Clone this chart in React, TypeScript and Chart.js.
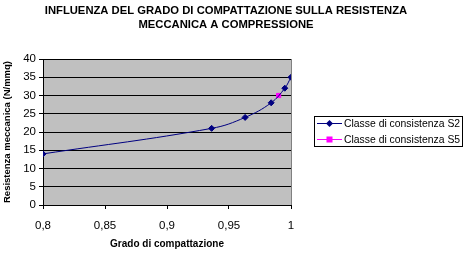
import React, { useEffect, useRef } from "react";
import { Chart, registerables } from "chart.js";

Chart.register(...registerables);

const titleLines = [
  "INFLUENZA DEL GRADO DI COMPATTAZIONE SULLA RESISTENZA",
  "MECCANICA A COMPRESSIONE",
];
const xAxisTitle = "Grado di compattazione";
const yAxisTitle = "Resistenza meccanica (N/mmq)";
const seriesNames = ["Classe di consistenza S2", "Classe di consistenza S5"];
const s2X = [0.8, 0.936, 0.963, 0.984, 0.995, 1.0];
const s2Y = [14, 21, 24, 28, 32, 35];
const s5X = [0.99];
const s5Y = [30];
const xTickLabels = ["0,8", "0,85", "0,9", "0,95", "1"];
const yTickLabels = ["0", "5", "10", "15", "20", "25", "30", "35", "40"];

const FONT = '"Liberation Sans", Arial, sans-serif';

export default function App() {
  const ref = useRef<HTMLCanvasElement>(null);

  useEffect(() => {
    document.body.style.margin = "0";
    const canvas = ref.current!;

    const bgPlugin = {
      id: "plotBg",
      beforeDraw(chart: any) {
        const { ctx, chartArea: a } = chart;
        ctx.save();
        ctx.fillStyle = "#C0C0C0";
        ctx.fillRect(a.left, a.top, a.right - a.left, a.bottom - a.top);
        ctx.strokeStyle = "#808080";
        ctx.lineWidth = 1;
        ctx.strokeRect(Math.round(a.left) + 0.5, Math.round(a.top) + 0.5, Math.round(a.right - a.left), Math.round(a.bottom - a.top));
        ctx.restore();
      },
    };

    const titlePlugin = {
      id: "customTitle",
      afterDraw(chart: any) {
        const ctx = chart.ctx;
        ctx.save();
        ctx.fillStyle = "#000";
        ctx.font = `bold 11.25px ${FONT}`;
        ctx.textAlign = "center";
        ctx.textBaseline = "alphabetic";
        ctx.fillText(titleLines[0], 226, 14);
        ctx.fillText(titleLines[1], 226, 28);
        ctx.restore();
      },
    };

    const legendPlugin = {
      id: "customLegend",
      afterDraw(chart: any) {
        const ctx = chart.ctx;
        const x0 = 314, y0 = 116, w = 148, h = 30;
        ctx.save();
        ctx.fillStyle = "#fff";
        ctx.fillRect(x0, y0, w, h);
        ctx.strokeStyle = "#000";
        ctx.lineWidth = 1;
        ctx.strokeRect(x0 + 0.5, y0 + 0.5, w, h);
        chart.data.datasets.forEach((ds: any, i: number) => {
          const cy = y0 + 7.5 + i * 16;
          ctx.strokeStyle = ds.borderColor;
          ctx.lineWidth = 1;
          ctx.beginPath();
          ctx.moveTo(x0 + 3, cy);
          ctx.lineTo(x0 + 28, cy);
          ctx.stroke();
          ctx.fillStyle = ds.pointBackgroundColor;
          const mx = x0 + 15.5;
          if (ds.pointStyle === "rect") {
            ctx.fillRect(mx - 3, cy - 3, 6, 6);
          } else {
            ctx.beginPath();
            ctx.moveTo(mx, cy - 3.5);
            ctx.lineTo(mx + 3.5, cy);
            ctx.lineTo(mx, cy + 3.5);
            ctx.lineTo(mx - 3.5, cy);
            ctx.closePath();
            ctx.fill();
          }
          ctx.fillStyle = "#000";
          ctx.font = `10.4px ${FONT}`;
          ctx.textAlign = "left";
          ctx.textBaseline = "middle";
          ctx.fillText(ds.label, x0 + 30, cy + 0.5);
        });
        ctx.restore();
      },
    };

    const chart = new Chart(canvas, {
      type: "scatter",
      data: {
        datasets: [
          {
            label: seriesNames[0],
            data: s2X.map((x, i) => ({ x, y: s2Y[i] })),
            showLine: true,
            borderColor: "#000080",
            backgroundColor: "#000080",
            pointBackgroundColor: "#000080",
            pointBorderColor: "#000080",
            pointStyle: "rectRot",
            pointRadius: 3,
            borderWidth: 1,
            tension: 0.4,
          },
          {
            label: seriesNames[1],
            data: s5X.map((x, i) => ({ x, y: s5Y[i] })),
            showLine: true,
            borderColor: "#FF00FF",
            backgroundColor: "#FF00FF",
            pointBackgroundColor: "#FF00FF",
            pointBorderColor: "#FF00FF",
            pointStyle: "rect",
            pointRadius: 3,
            borderWidth: 1,
          },
        ],
      },
      options: {
        responsive: false,
        animation: false,
        layout: { padding: { top: 59, right: 176, left: 0, bottom: 0 } },
        plugins: {
          legend: { display: false },
          title: { display: false },
          tooltip: { enabled: false },
        },
        scales: {
          x: {
            type: "linear",
            min: 0.8,
            max: 1.0,
            afterFit(scale: any) {
              scale.height = 49;
            },
            ticks: {
              stepSize: 0.05,
              color: "#000",
              font: { family: FONT, size: 11.5 },
              padding: 10,
              maxRotation: 0,
              callback: (_v: any, i: number) => xTickLabels[i],
            },
            grid: {
              drawOnChartArea: false,
              drawTicks: true,
              tickLength: 4,
              color: "#000",
            },
            border: { color: "#000" },
            title: {
              display: true,
              text: xAxisTitle,
              color: "#000",
              font: { family: FONT, size: 10, weight: "bold" },
              padding: { top: 2, bottom: 4 },
            },
          },
          y: {
            min: 0,
            max: 40,
            afterFit(scale: any) {
              scale.width = 43;
            },
            ticks: {
              stepSize: 5,
              color: "#000",
              font: { family: FONT, size: 11.5 },
              padding: 3,
              callback: (_v: any, i: number) => yTickLabels[i],
            },
            grid: {
              color: "#000",
              tickLength: 4,
            },
            border: { color: "#000" },
            title: {
              display: true,
              text: yAxisTitle,
              color: "#000",
              font: { family: FONT, size: 9.5, weight: "bold" },
              padding: { top: 2, bottom: 0 },
            },
          },
        },
      },
      plugins: [bgPlugin, titlePlugin, legendPlugin],
    } as any);

    return () => chart.destroy();
  }, []);

  return (
    <div style={{ width: 467, height: 254 }}>
      <canvas ref={ref} width={467} height={254} />
    </div>
  );
}
